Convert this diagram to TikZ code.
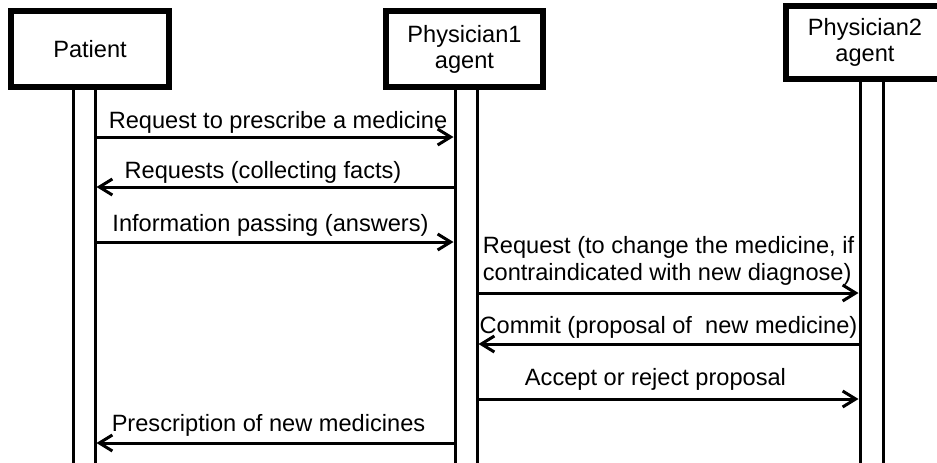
\documentclass[tikz,border=0pt]{standalone}
\usepackage{fontspec}
\setmainfont{Liberation Sans}
\usetikzlibrary{positioning,arrows.meta}

\tikzset{
  agentbox/.style={draw, fill=white, line width=3.2pt, minimum width=78.75pt,
    minimum height=37.75pt, align=center, inner sep=0pt,
    font=\fontsize{11.8}{13}\selectfont},
  lifeline/.style={draw, line width=1.5pt, minimum width=11pt,
    minimum height=200pt, anchor=north, inner sep=0pt},
  msg/.style={line width=1.5pt, -{Straight Barb[length=6.5pt,width=8pt]}},
  msglabel/.style={inner sep=0pt, text depth=0pt,
    font=\fontsize{11.8}{13.5}\selectfont}
}

\begin{document}
\begin{tikzpicture}[x=0.5pt, y=-0.5pt]
  % page: 937 x 462 px, 1 unit = 1 px
  \clip (0,0) rectangle (937,462);
  \fill[white] (0,0) rectangle (937,462);

  % lifelines (double lines below each agent)
  \node[lifeline] (patLife) at (84,87) {};
  \node[lifeline] (ph1Life) at (466,87) {};
  \node[lifeline, minimum width=11.5pt] (ph2Life) at (871.5,79) {};

  % agents
  \node[agentbox] (patient) at (90,49) {Patient};
  \node[agentbox] (phys1) at (464.5,49) {Physician1\\agent};
  \node[agentbox, minimum height=36.25pt] (phys2) at (865,42.5) {Physician2\\agent};

  % Patient <-> Physician1
  \draw[msg] (patLife.east |- 0,137) -- (ph1Life.west |- 0,137)
    node[msglabel, midway, above=3.5pt, xshift=1.5pt] {Request to prescribe a medicine};
  \draw[msg] (ph1Life.west |- 0,187) -- (patLife.east |- 0,187)
    node[msglabel, midway, above=3.5pt, xshift=-6pt] {Requests (collecting facts)};
  \draw[msg] (patLife.east |- 0,242) -- (ph1Life.west |- 0,242)
    node[msglabel, midway, above=4.5pt, xshift=-2.25pt] {Information passing (answers)};

  % Physician1 <-> Physician2
  \draw[msg] (ph1Life.east |- 0,293) -- (ph2Life.west |- 0,293)
    node[msglabel, midway, above=5.5pt, align=left] {Request (to change the medicine, if\\contraindicated with new diagnose)};
  \draw[msg] (ph2Life.west |- 0,344) -- (ph1Life.east |- 0,344)
    node[msglabel, midway, above=4.5pt] {Commit (proposal of\ \ new medicine)};
  \draw[msg] (ph1Life.east |- 0,399) -- (ph2Life.west |- 0,399)
    node[msglabel, midway, above=6pt, xshift=-6.5pt] {Accept or reject proposal};

  % Physician1 -> Patient
  \draw[msg] (ph1Life.west |- 0,443) -- (patLife.east |- 0,443)
    node[msglabel, midway, above=5pt, xshift=-3.25pt] {Prescription of new medicines};
\end{tikzpicture}
\end{document}
